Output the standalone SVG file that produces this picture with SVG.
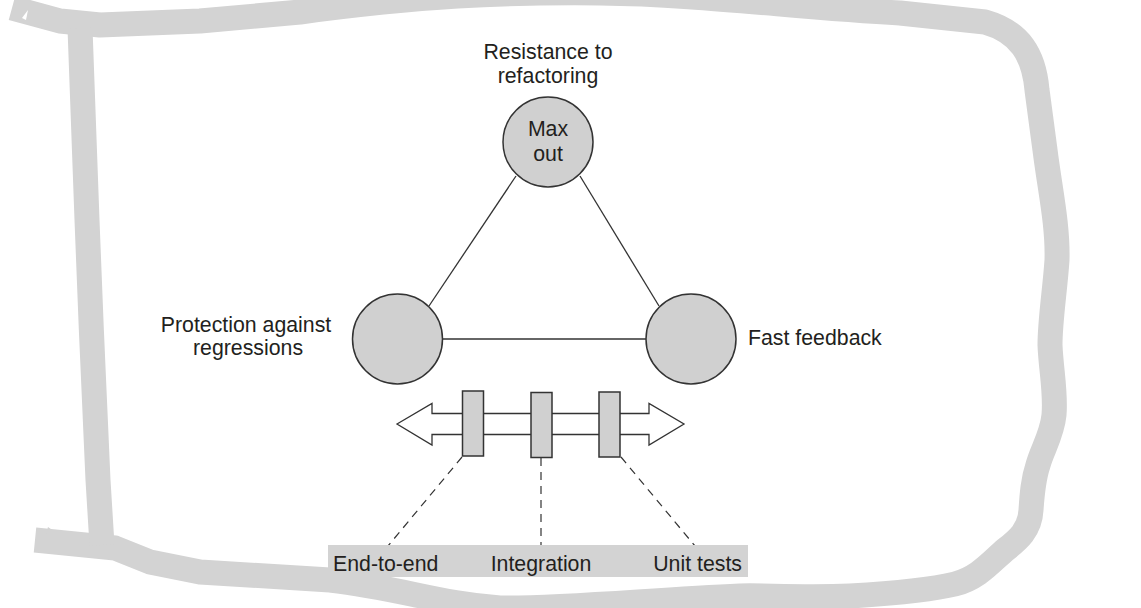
<svg xmlns="http://www.w3.org/2000/svg" width="1141" height="608" viewBox="0 0 1141 608">
  <style>
    .border { fill: none; stroke: #d3d3d3; stroke-width: 25; stroke-linejoin: round; stroke-linecap: butt; }
    .node { fill: #d0d0d0; stroke: #333333; stroke-width: 1.5; }
    .edge { fill: none; stroke: #333333; stroke-width: 1.3; }
    .dash { fill: none; stroke: #333333; stroke-width: 1.2; stroke-dasharray: 8 6; }
    .label { font-family: "Liberation Sans", Arial, sans-serif; font-size: 21.3px; fill: #231f20; }
    .mid { text-anchor: middle; }
  </style>
  <rect width="1141" height="608" fill="#ffffff"/>

  <g id="border">
    <path class="border" d="M12,8 L60,21 L100,25 L200,21 L300,12 C420,-4 500,-8 600,-7 C700,-6 800,8 900,13 L985,22 C1020,32 1034,55 1037,90 L1045,150 C1050,190 1058,225 1057,260 C1055,290 1050,320 1050,345 C1051,370 1056,392 1054,415 C1052,435 1042,450 1038,465 C1033,480 1032,495 1031,510 C1030,530 1018,540 1005,550 C990,563 978,578 955,584 C930,590 900,593 850,596 C800,598 760,595 740,596 C650,600 560,609 500,608 C440,604 400,588 330,580 L200,572 L150,562 L115,548 L35,540"/>
    <path class="border" d="M80,28 C82,80 85,150 87,220 C90,300 95,420 98,480 L102,545"/>
    <polygon points="22,18 28,10 26,20" fill="#ffffff"/>
    <polygon points="48,527 58,534 46,534" fill="#d3d3d3"/>
  </g>

  <g id="connectors">
    <line class="edge" x1="516" y1="176" x2="429" y2="306"/>
    <line class="edge" x1="580" y1="176" x2="659" y2="306"/>
    <line class="edge" x1="443" y1="339" x2="646" y2="339"/>
    <line class="dash" x1="462" y1="457" x2="388" y2="546"/>
    <line class="dash" x1="541" y1="458" x2="541" y2="546"/>
    <line class="dash" x1="621" y1="457" x2="695" y2="546"/>
  </g>

  <g id="node-resistance">
    <circle class="node" cx="548" cy="142" r="45"/>
    <text class="label mid" x="548" y="136">Max</text>
    <text class="label mid" x="548" y="161">out</text>
    <text class="label mid" x="548" y="59">Resistance to</text>
    <text class="label mid" x="548" y="83">refactoring</text>
  </g>

  <g id="node-protection">
    <circle class="node" cx="397.5" cy="339" r="45"/>
    <text class="label mid" x="246" y="332">Protection against</text>
    <text class="label mid" x="248" y="355">regressions</text>
  </g>

  <g id="node-fast">
    <circle class="node" cx="691" cy="339" r="45"/>
    <text class="label" x="748" y="345">Fast feedback</text>
  </g>

  <g id="spectrum">
    <polygon points="397,424 432,403.5 432,413.5 649,413.5 649,403.5 684,424 649,445 649,434.5 432,434.5 432,445" fill="#ffffff" stroke="#333333" stroke-width="1.3" stroke-linejoin="miter"/>
    <rect id="e2e-marker" class="node" x="462.5" y="391" width="21" height="65"/>
    <rect id="integration-marker" class="node" x="531" y="392.5" width="21" height="65"/>
    <rect id="unit-marker" class="node" x="599" y="392" width="21" height="65"/>
  </g>

  <g id="test-labels">
    <rect x="328" y="545" width="420" height="32" fill="#d3d3d3"/>
    <text class="label" x="333" y="571">End-to-end</text>
    <text class="label mid" x="541" y="571">Integration</text>
    <text class="label" x="742" y="571" text-anchor="end">Unit tests</text>
  </g>
</svg>
